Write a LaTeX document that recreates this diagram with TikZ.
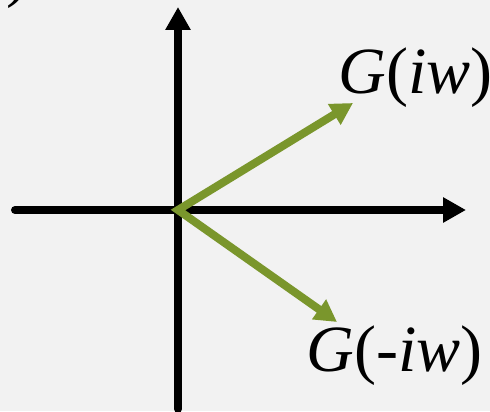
\documentclass[tikz,border=0pt]{standalone}
\usepackage{fontspec}
\setmainfont{Liberation Serif}
\newfontfamily\lblfont{Liberation Serif}[ItalicFont={Liberation Serif Italic}]
\usetikzlibrary{arrows.meta}
\definecolor{figBg}{RGB}{242,242,242}
\definecolor{figG}{RGB}{122,150,44}

\begin{document}
\begin{tikzpicture}[x=0.5pt,y=0.5pt,
  axis/.style={line width=4pt,line cap=round,-{Triangle[length=11.5pt,width=12pt]}},
  vec/.style={figG,line width=4pt,{Triangle[length=11pt,width=11.5pt]}-{Triangle[length=11pt,width=11.5pt]}},
  lbl/.style={anchor=base west,inner sep=0pt,font=\lblfont\fontsize{33}{37}\selectfont}]
\fill[figBg] (0,0) rectangle (490,411);
\useasboundingbox (0,0) rectangle (490,411);
\coordinate (O) at (178,201);
\coordinate (xl) at (15,201); \coordinate (xr) at (466,201);
\coordinate (yb) at (178,2); \coordinate (yt) at (178,404);
\coordinate (up) at (353,308); \coordinate (dn) at (337,89);
\draw[axis] (xl) -- (xr);
\draw[axis] (yb) -- (yt);
\draw[vec] (up) -- (O) -- (dn);
\node[lbl] (Gp) at (338,317) {\textit{G}(\textit{iw})};
\node[lbl] (Gm) at (306,40) {\textit{G}(-\textit{iw})};
\node[lbl] (cut) at (6,416) {)};
\end{tikzpicture}
\end{document}
